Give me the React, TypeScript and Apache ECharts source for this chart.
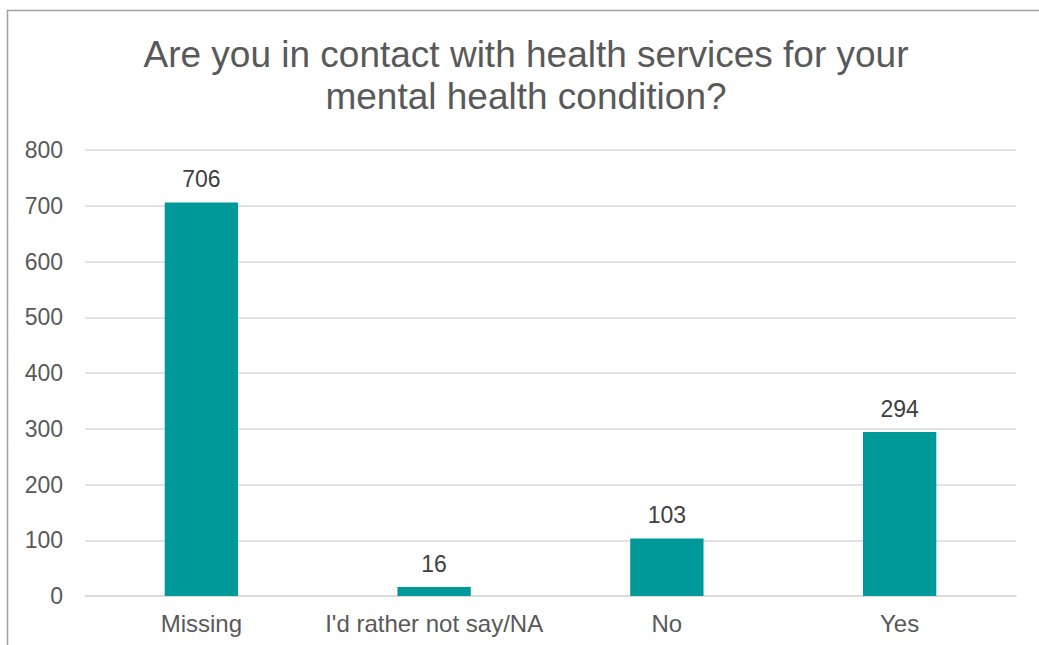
import React, { useEffect, useRef } from "react";
import * as echarts from "echarts";

const categories = ["Missing", "I'd rather not say/NA", "No", "Yes"];
const values = [706, 16, 103, 294];
const yTicks = { min: 0, max: 800, interval: 100 };
const titleText = "Are you in contact with health services for your\nmental health condition?";

export default function App() {
  const ref = useRef<HTMLDivElement>(null);
  useEffect(() => {
    if (!ref.current) return;
    const chart = echarts.init(ref.current, undefined, { renderer: "svg" });
    const font = "Liberation Sans, Arial, sans-serif";
    chart.setOption({
      animation: false,
      backgroundColor: "#ffffff",
      textStyle: { fontFamily: font },
      graphic: [
        {
          type: "rect",
          shape: { x: 7.5, y: 10.5, width: 1200, height: 800 },
          style: { fill: "none", stroke: "#a0a0a0", lineWidth: 1.5 },
          silent: true,
        },
        {
          type: "text",
          x: 526,
          y: 33,
          style: {
            text: titleText,
            textAlign: "center",
            textVerticalAlign: "top",
            fontSize: 37,
            lineHeight: 42,
            fontFamily: font,
            fill: "#595959",
          },
        },
      ],
      grid: { left: 85, right: 23, top: 150, bottom: 49, containLabel: false },
      xAxis: {
        type: "category",
        data: categories,
        axisLine: { lineStyle: { color: "#d9d9d9", width: 1.5 } },
        axisTick: { show: false },
        axisLabel: { color: "#595959", fontSize: 24, margin: 15, interval: 0, fontFamily: font },
      },
      yAxis: {
        type: "value",
        min: yTicks.min,
        max: yTicks.max,
        interval: yTicks.interval,
        axisLine: { show: false },
        axisTick: { show: false },
        splitLine: { lineStyle: { color: "#d9d9d9", width: 1.5 } },
        axisLabel: { color: "#595959", fontSize: 23, margin: 22, fontFamily: font },
      },
      series: [
        {
          type: "bar",
          data: values,
          barWidth: "31.5%",
          itemStyle: { color: "#009999" },
          label: {
            show: true,
            position: "top",
            distance: 12,
            color: "#404040",
            fontSize: 23,
            fontFamily: font,
          },
        },
      ],
    });
    return () => chart.dispose();
  }, []);
  return (
    <div
      ref={ref}
      style={{ position: "absolute", left: 0, top: 0, width: 1039, height: 645 }}
    />
  );
}
